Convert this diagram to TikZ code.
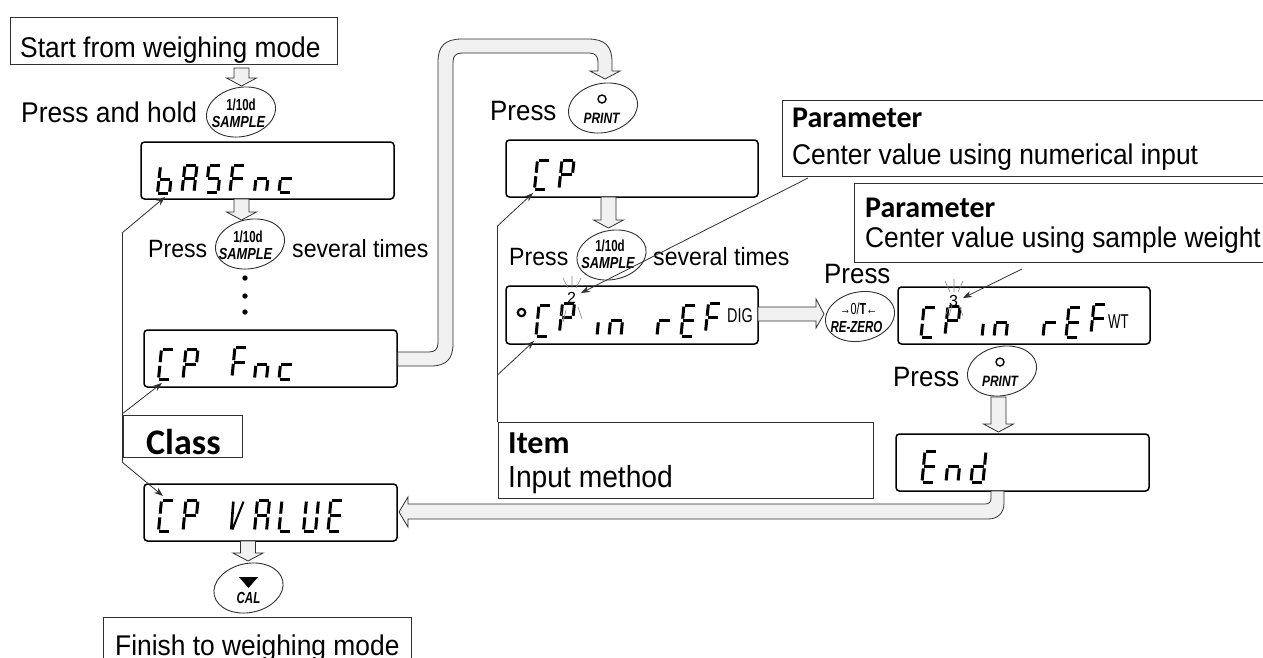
\documentclass[tikz,border=0pt]{standalone}
\usepackage{fontspec}
\setmainfont{Liberation Sans}
\newfontfamily\headfont{Carlito}
\usetikzlibrary{arrows.meta,shapes.geometric,calc}
\definecolor{ln}{HTML}{303030}
\definecolor{blk}{HTML}{F1F1F1}
\newcommand\fs[1]{\fontsize{#1}{#1}\selectfont}
% tall, slightly condensed body text: width given in Arial-size terms
\newcommand\tx[2]{\fs{#1}\scalebox{.925}[1]{#2}}
% seven segment strokes, in a unit cell
\def\sega{\draw[segm] (.1,1)--(.92,1);}
\def\segb{\draw[segm] (1,.95)--(1,.56);}
\def\segc{\draw[segm] (1,.44)--(1,.05);}
\def\segd{\draw[segm] (.08,0)--(.9,0);}
\def\sege{\draw[segm] (0,.44)--(0,.05);}
\def\segf{\draw[segm] (0,.95)--(0,.56);}
\def\segg{\draw[segm] (.08,.5)--(.92,.5);}
\def\segv{\draw[segm,line width=2.6pt] (0,.95)--(.05,.05); \draw[segm,line width=2pt] (.85,.95)--(.15,.05);}
\newcommand\glyph[5]{% x, baseline y, height, width, segments
  \begin{scope}[shift={(#1,#2)},x={(#4pt,0pt)},y={(3pt,#3pt)}]
    \foreach \s in {#5}{\csname seg\s\endcsname}
  \end{scope}}
\newcommand\glyphC[3]{\glyph{#1}{#2}{#3}{12}{a,d,e,f}}
\newcommand\glyphP[3]{\glyph{#1}{#2}{#3}{12}{a,b,e,f,g}}
\newcommand\glyphF[3]{\glyph{#1}{#2}{#3}{12}{a,e,f,g}}
\newcommand\glyphE[3]{\glyph{#1}{#2}{#3}{12}{a,d,e,f,g}}
\newcommand\glyphn[3]{\glyph{#1}{#2}{#3}{12}{c,e,g}}
\newcommand\glyphc[3]{\glyph{#1}{#2}{#3}{12}{d,e,g}}
\newcommand\glyphr[3]{\glyph{#1}{#2}{#3}{12}{e,g}}
% block arrow pointing down, from one named coordinate to another
\newcommand\blockdn[2]{\draw[blkarrow] let \p1=(#1),\p2=(#2) in
  (\x1-7.5pt,\y1) -- (\x1-7.5pt,\y2+8pt) -- (\x1-15pt,\y2+8pt) -- (\x2,\y2) --
  (\x1+15pt,\y2+8pt) -- (\x1+7.5pt,\y2+8pt) -- (\x1+7.5pt,\y1) -- cycle;}
% a key: name, x, y
\newcommand\keyshape[3]{\node[keybtn] (#1) at (#2,#3) {};}
\tikzset{
  segm/.style={line width=3pt,line cap=butt,black},
  keybtn/.style={ellipse,draw=ln,line width=.9pt,fill=white,minimum width=70pt,minimum height=49pt,inner sep=0pt,rotate=12},
  disp/.style={draw=black,line width=1.5pt,rounded corners=3.5pt,fill=white,inner sep=0pt},
  note/.style={draw=ln,line width=.9pt,fill=white,inner sep=0pt},
  blkarrow/.style={draw=ln,line width=.8pt,fill=blk,line join=miter},
  lab/.style={anchor=base west,inner sep=0pt,text=black},
  keytxt/.style={anchor=base,inner sep=0pt,text=black},
  call/.style={draw=ln,line width=.8pt},
  tip/.style={-{Stealth[length=9pt,width=6.5pt]}},
  ray/.style={draw=gray,line width=.6pt}
}
\begin{document}
\begin{tikzpicture}[x=1pt,y=-1pt]
\clip (0,0) rectangle (1263,657);
\fill[white] (0,0) rectangle (1263,657);

% ---- anchors for block arrows
\coordinate (a1s) at (241.5,68);  \coordinate (a1t) at (241.5,86);
\coordinate (a2s) at (241.5,199); \coordinate (a2t) at (241.5,220);
\coordinate (a3s) at (248,541);   \coordinate (a3t) at (248,561);
\coordinate (a4s) at (608.5,197); \coordinate (a4t) at (608.5,228);
\coordinate (a5s) at (998.5,397); \coordinate (a5t) at (998.5,432);

% ---- rectangles
\node[note,minimum width=327pt,minimum height=47pt] (start) at (173.5,40.5) {};
\node[note,minimum width=308pt,minimum height=60pt] (finish) at (257,647) {};
\node[note,minimum width=119pt,minimum height=42pt] (classbox) at (182.5,436) {};
\node[note,minimum width=375pt,minimum height=76pt] (itembox) at (685.5,460) {};
\node[note,minimum width=500pt,minimum height=76pt] (par1) at (1032,138) {};
\node[note,minimum width=430pt,minimum height=79pt] (par2) at (1069,222.5) {};

% ---- displays
\node[disp,minimum width=253pt,minimum height=57pt] (d1) at (267.5,170.5) {};
\node[disp,minimum width=253pt,minimum height=57pt] (d2) at (270.5,358.5) {};
\node[disp,minimum width=253pt,minimum height=57pt] (d3) at (270.5,512.5) {};
\node[disp,minimum width=252pt,minimum height=57pt] (d4) at (632,168.5) {};
\node[disp,minimum width=252pt,minimum height=58pt] (d5) at (632,315) {};
\node[disp,minimum width=252pt,minimum height=57pt] (d6) at (1024,315.5) {};
\node[disp,minimum width=253pt,minimum height=57pt] (d7) at (1022.5,462.5) {};

% ---- long block arrows
\draw[blkarrow] (d2.east |- 0,352) -- (429,352) .. controls (435,352) and (438,349) .. (438,343) -- (438,62)
  .. controls (438,46) and (445,39) .. (462,39) -- (588,39) .. controls (605,39) and (612,46) .. (612,62)
  -- (612,71) -- (620,71) -- (605,79) -- (590,71) -- (598,71) -- (598,62)
  .. controls (598,56) and (595,53) .. (589,53) -- (462,53) .. controls (456,53) and (453,56) .. (453,62)
  -- (453,344) .. controls (453,359) and (446,366) .. (431,366) -- (d2.east |- 0,366) -- cycle;
\draw[blkarrow] (991,491) -- (991,498) .. controls (991,502) and (989,504) .. (985,504) -- (408,504) -- (408,497) -- (399,512)
  -- (408,527) -- (408,519) -- (988,519) .. controls (998,519) and (1004,513) .. (1004,503) -- (1004,491) -- cycle;
\draw[blkarrow] (758,307) -- (816,307) -- (816,299) -- (824,314) -- (816,328) -- (816,321) -- (758,321) -- cycle;

% ---- short block arrows
\blockdn{a1s}{a1t}
\blockdn{a2s}{a2t}
\blockdn{a3s}{a3t}
\blockdn{a4s}{a4t}
\blockdn{a5s}{a5t}

% ---- keys
\keyshape{k1}{241}{112}
\keyshape{k2}{250}{244}
\keyshape{k3}{248.5}{588}
\keyshape{k4}{603}{108}
\keyshape{k5}{611.5}{255}
\keyshape{k6}{860}{316.5}
\keyshape{k7}{1002}{371}

\node[keytxt] (k1a) at (241,110) {\fs{16}\bfseries\scalebox{.72}[1]{1/10d}};
\node[keytxt] (k1b) at (238.5,127) {\fs{16}\bfseries\itshape\scalebox{.8}[1]{SAMPLE}};
\node[keytxt] (k2a) at (248,242) {\fs{16}\bfseries\scalebox{.72}[1]{1/10d}};
\node[keytxt] (k2b) at (245.5,259) {\fs{16}\bfseries\itshape\scalebox{.8}[1]{SAMPLE}};
\node[keytxt] (k5a) at (610,251) {\fs{16}\bfseries\scalebox{.72}[1]{1/10d}};
\node[keytxt] (k5b) at (608,268) {\fs{16}\bfseries\itshape\scalebox{.8}[1]{SAMPLE}};
\fill[black] (239,577) -- (258,577) -- (248.5,588) -- cycle;
\node[keytxt] (k3b) at (248.5,603) {\fs{16}\bfseries\itshape\scalebox{.72}[1]{CAL}};
\node[circle,draw=black,line width=1.4pt,minimum size=8pt,inner sep=0pt] (k4c) at (602,99) {};
\node[keytxt] (k4b) at (601.5,123) {\fs{15}\bfseries\itshape\scalebox{.8}[1]{PRINT}};
\node[circle,draw=black,line width=1.4pt,minimum size=8pt,inner sep=0pt] (k7c) at (1000,362) {};
\node[keytxt] (k7b) at (1000,386) {\fs{15}\bfseries\itshape\scalebox{.8}[1]{PRINT}};
\node[keytxt] (k6a) at (858.5,314) {\fs{16}\scalebox{.68}[1]{\textbf{→}0/\textbf{T←}}};
\node[keytxt] (k6b) at (856.5,332) {\fs{16}\bfseries\itshape\scalebox{.72}[1]{RE-ZERO}};

% ---- labels
\node[lab] (t1) at (20,57) {\tx{28.5}{Start from weighing mode}};
\node[lab] (t2) at (21,122) {\tx{28.5}{Press and hold}};
\node[lab] (t3) at (148,257) {\tx{25}{Press}};
\node[lab] (t4) at (292,257) {\tx{25}{several times}};
\node[lab] (t5) at (490,120) {\tx{28}{Press}};
\node[lab] (t6) at (509,265) {\tx{25}{Press}};
\node[lab] (t7) at (653,265) {\tx{25}{several times}};
\node[lab] (t8) at (824,283) {\tx{28}{Press}};
\node[lab] (t9) at (893,386) {\tx{28}{Press}};
\node[lab] (t10) at (115,655) {\tx{28.5}{Finish to weighing mode}};
\node[lab] (t11) at (146,454) {\fs{36}\headfont\bfseries Class};
\node[lab] (t12) at (508,453) {\fs{32}\headfont\bfseries Item};
\node[lab] (t13) at (508,487) {\tx{30.5}{Input method}};
\node[lab] (t14) at (792,127) {\fs{30}\headfont\bfseries Parameter};
\node[lab] (t15) at (792,164) {\tx{28.5}{Center value using numerical input}};
\node[lab] (t16) at (865,217) {\fs{30}\headfont\bfseries Parameter};
\node[lab] (t17) at (865,247) {\tx{28.5}{Center value using sample weight}};

% ---- dots
\foreach \yy in {278,296,312}{\fill[black] (245,\yy) circle (2.7);}

% ---- display segments
% bASFnc
\glyph{157.5}{193}{27}{12}{d,e,f,g,c}
\glyph{182}{192}{27}{12}{a,b,c,e,f,g}
\glyph{206}{192}{27}{12}{a,f,g,c,d}
\glyphF{230}{192}{27}
\glyphn{254.5}{192}{27}
\glyphc{279}{192}{27}
% CP Fnc
\glyphC{158.5}{379}{30}
\glyphP{183}{379}{30}
\glyphF{232}{377}{30}
\glyphn{254.5}{379}{30}
\glyphc{279}{379}{30}
% CP VALUE
\glyphC{158.5}{531}{31}
\glyphP{183}{531}{31}
\glyph{230.5}{531}{31}{12}{v}
\glyph{254.5}{531}{31}{12}{a,b,c,e,f,g}
\glyph{279}{531}{31}{12}{d,e,f}
\glyph{303.5}{531}{31}{12}{b,c,d,e,f}
\glyphE{328}{531}{31}
% CP
\glyphC{534.5}{189}{29}
\glyphP{559}{189}{29}
% o CP in rEF DIG
\node[circle,draw=black,line width=2.2pt,minimum size=7.5pt,inner sep=0pt] (deg) at (521.5,312.5) {};
\glyphC{536}{336}{31}
\glyphP{559.5}{332}{29}
\glyph{585}{336}{31}{12}{c}
\glyphn{609}{336}{31}
\glyphr{657}{336}{31}
\glyphE{681}{336}{31}
\glyphF{705.5}{332}{29}
\node[lab] (dig) at (727,322.5) {\fs{20}\scalebox{.72}[1]{DIG}};
% CP in rEF WT
\glyphC{921}{337}{30}
\glyphP{945}{335}{29}
\glyph{970}{337}{30}{12}{c}
\glyphn{994}{337}{30}
\glyphr{1043}{337}{30}
\glyphE{1066}{337}{30}
\glyphF{1091}{333}{29}
\node[lab] (wt) at (1108,328) {\fs{20}\scalebox{.66}[1]{WT}};
% End
\glyphE{922}{482}{31}
\glyphn{946}{482}{31}
\glyph{971}{482}{31}{12}{b,c,d,e,g}

% ---- blinking digits
\node[keytxt] (bl2) at (571.5,303) {\fs{16}2};
\node[keytxt] (bl3) at (953.5,306) {\fs{16}3};
\draw[ray] (563,278) -- (568,288) (572,276) -- (572,288) (581,278) -- (576,288)
  (564,320) -- (560,309) (566,310) -- (563,322) (578,307) -- (582,319);
\draw[ray] (945,281) -- (950,292) (954,279) -- (954,292) (963,281) -- (958,292)
  (946,314) -- (950,305) (949,316) -- (952,305) (959,305) -- (963,316);

% ---- callouts
\coordinate (cTop) at (122,233);
\coordinate (cMid) at (122,414);
\coordinate (cLow) at (122,462);
\coordinate (cT) at (165,197);
\coordinate (cM) at (162,383);
\coordinate (cB) at (163,496);
\draw[call] (cLow) -- (cTop);
\draw[call,tip] (cTop) -- (cT);
\draw[call,tip] (cMid) -- (cM);
\draw[call,tip] (cLow) -- (cB);
\coordinate (iLow) at (497.5,422);
\coordinate (iTop) at (497.5,226);
\coordinate (iMid) at (497.5,375);
\coordinate (iT) at (533,193);
\coordinate (iM) at (534,341);
\draw[call] (iLow) -- (iTop);
\draw[call,tip] (iTop) -- (iT);
\draw[call,tip] (iMid) -- (iM);
\coordinate (p1s) at (808,178);
\coordinate (p1t) at (581,293);
\draw[call,tip] (p1s) -- (p1t);
\coordinate (p2s) at (1022,269);
\coordinate (p2t) at (963,298);
\draw[call,tip] (p2s) -- (p2t);
\end{tikzpicture}
\end{document}
